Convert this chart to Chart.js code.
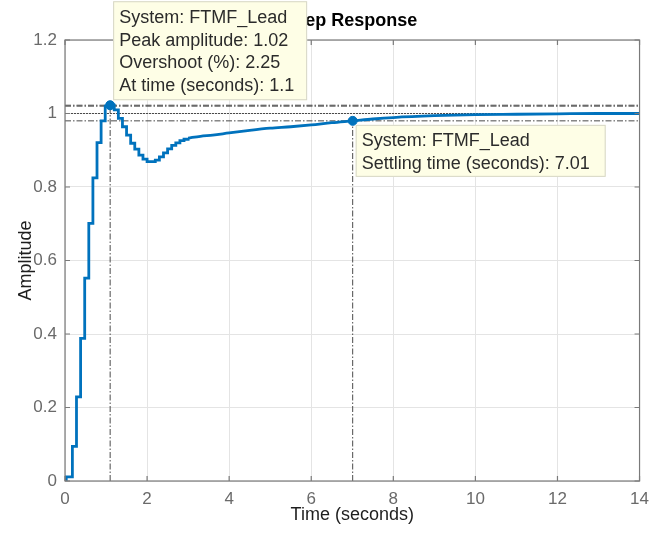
<!DOCTYPE html>
<html>
<head>
<meta charset="utf-8">
<script src="https://cdn.jsdelivr.net/npm/chart.js@4.4.1/dist/chart.umd.min.js"></script>
<style>
  html, body { margin: 0; padding: 0; background: #fff; }
</style>
</head>
<body>
<canvas id="chart" width="657" height="534"></canvas>
<script>
var stairTimes = [0, 0.03, 0.18, 0.28, 0.38, 0.48, 0.58, 0.68, 0.78, 0.88, 0.98, 1.1,
  1.2, 1.3, 1.4, 1.5, 1.6, 1.7, 1.8, 1.9, 2.0, 2.1, 2.2, 2.3, 2.4, 2.5, 2.6, 2.7, 2.8, 2.9, 3.0];
var stairValues = [0, 0.011, 0.094, 0.229, 0.388, 0.552, 0.701, 0.825, 0.921, 0.980, 1.020, 1.0225,
  1.010, 0.987, 0.964, 0.941, 0.919, 0.903, 0.887, 0.876, 0.869, 0.869, 0.873, 0.882, 0.893, 0.904,
  0.913, 0.920, 0.926, 0.930, 0.933];

// slow tail, visually smooth
var tailTimes = [3.0, 3.3, 3.6, 4.0, 4.5, 5.0, 5.5, 6.0, 6.5, 7.01, 7.5, 8, 9, 10, 11, 12, 13, 14];
var tailValues = [0.933, 0.938, 0.941, 0.947, 0.954, 0.960, 0.964, 0.969, 0.975, 0.980, 0.985,
  0.989, 0.994, 0.997, 0.998, 0.999, 1.0, 1.0];

var xTicks = [0, 2, 4, 6, 8, 10, 12, 14];
var yTicks = [0, 0.2, 0.4, 0.6, 0.8, 1, 1.2];

var peakTime = 1.1, peakValue = 1.0225;
var settleTime = 7.01, settleValue = 0.98;
var finalValue = 1;
var bandLow = 0.98, bandHigh = 1.02;

var chartTitle = "Step Response";
var peakTipLines = ["System: FTMF_Lead", "Peak amplitude: 1.02", "Overshoot (%): 2.25", "At time (seconds): 1.1"];
var settleTipLines = ["System: FTMF_Lead", "Settling time (seconds): 7.01"];

(function () {
  "use strict";

  var blue = "#0072BD";
  var refColor = "#4a4a4a";
  var dashDot = [6, 2, 1.5, 2];
  var fontFamily = '"Liberation Sans", Arial, sans-serif';
  var xMin = xTicks[0], xMax = xTicks[xTicks.length - 1];

  function pts(xs, ys) {
    return xs.map(function (x, i) { return { x: x, y: ys[i] }; });
  }

  function refLine(data, dash) {
    return {
      data: data,
      borderColor: refColor,
      borderWidth: 1,
      borderDash: dash,
      pointRadius: 0,
      fill: false,
      order: 5,
    };
  }

  var datasets = [
    {
      data: [{ x: peakTime, y: peakValue }, { x: settleTime, y: settleValue }],
      showLine: false,
      pointRadius: 4.5,
      pointBackgroundColor: blue,
      pointBorderColor: blue,
      order: 0,
    },
    {
      data: pts(stairTimes, stairValues),
      stepped: "before",
      borderColor: blue,
      borderWidth: 2.8,
      pointRadius: 0,
      fill: false,
      order: 1,
    },
    {
      data: pts(tailTimes, tailValues),
      borderColor: blue,
      borderWidth: 2.8,
      pointRadius: 0,
      cubicInterpolationMode: "monotone",
      fill: false,
      order: 1,
    },
    refLine([{ x: xMin, y: peakValue }, { x: xMax, y: peakValue }], dashDot),
    refLine([{ x: xMin, y: bandHigh }, { x: xMax, y: bandHigh }], dashDot),
    refLine([{ x: xMin, y: finalValue }, { x: xMax, y: finalValue }], [2, 1]),
    refLine([{ x: xMin, y: bandLow }, { x: xMax, y: bandLow }], dashDot),
    refLine([{ x: peakTime, y: 0 }, { x: peakTime, y: peakValue }], dashDot),
    refLine([{ x: settleTime, y: 0 }, { x: settleTime, y: settleValue }], dashDot),
  ];

  function drawTip(ctx, lines, left, top, w, h, firstLine, step) {
    ctx.save();
    ctx.fillStyle = "#fefee6";
    ctx.strokeStyle = "#d6d6c6";
    ctx.lineWidth = 1;
    ctx.fillRect(left, top, w, h);
    ctx.strokeRect(left + 0.5, top + 0.5, w - 1, h - 1);
    ctx.fillStyle = "#2b2b2b";
    ctx.font = "18px " + fontFamily;
    ctx.textBaseline = "middle";
    ctx.textAlign = "left";
    lines.forEach(function (t, i) {
      ctx.fillText(t, left + 6, top + firstLine + i * step);
    });
    ctx.restore();
  }

  var frame = {
    id: "frame",
    afterDatasetsDraw: function (chart) {
      var ctx = chart.ctx, a = chart.chartArea;
      var xs = chart.scales.x, ys = chart.scales.y;
      ctx.save();
      ctx.strokeStyle = "#7a7a7a";
      ctx.lineWidth = 1.2;
      ctx.strokeRect(a.left, a.top, a.right - a.left, a.bottom - a.top);
      ctx.beginPath();
      xTicks.forEach(function (v) {
        var px = xs.getPixelForValue(v);
        ctx.moveTo(px, a.bottom); ctx.lineTo(px, a.bottom - 5);
        ctx.moveTo(px, a.top); ctx.lineTo(px, a.top + 5);
      });
      yTicks.forEach(function (v) {
        var py = ys.getPixelForValue(v);
        ctx.moveTo(a.left, py); ctx.lineTo(a.left + 5, py);
        ctx.moveTo(a.right, py); ctx.lineTo(a.right - 5, py);
      });
      ctx.stroke();
      ctx.restore();
    },
    afterDraw: function (chart) {
      var ctx = chart.ctx, a = chart.chartArea;
      var xs = chart.scales.x, ys = chart.scales.y;

      // title centred over the axes, partly hidden by the peak tip
      ctx.save();
      ctx.fillStyle = "#000";
      ctx.font = "bold 18px " + fontFamily;
      ctx.textAlign = "center";
      ctx.textBaseline = "middle";
      ctx.fillText(chartTitle, (a.left + a.right) / 2, 21);
      ctx.restore();

      var px = xs.getPixelForValue(peakTime), py = ys.getPixelForValue(peakValue);
      drawTip(ctx, peakTipLines, px + 3, py - 104, 194, 99, 17, 22.6);
      var sx = xs.getPixelForValue(settleTime), sy = ys.getPixelForValue(settleValue);
      drawTip(ctx, settleTipLines, sx + 3, sy + 4, 250, 52, 16.5, 22.6);

      ctx.save();
      ctx.fillStyle = blue;
      ctx.beginPath();
      ctx.arc(px, py, 4.5, 0, Math.PI * 2);
      ctx.fill();
      ctx.restore();
    },
  };

  Chart.defaults.font.family = fontFamily;

  new Chart(document.getElementById("chart"), {
    type: "line",
    data: { datasets: datasets },
    options: {
      responsive: false,
      devicePixelRatio: 1,
      animation: false,
      layout: { padding: { left: 0, right: 17, top: 40, bottom: 0 } },
      plugins: {
        legend: { display: false },
        tooltip: { enabled: false },
        title: { display: false },
      },
      scales: {
        x: {
          type: "linear",
          min: xMin,
          max: xMax,
          afterBuildTicks: function (s) {
            s.ticks = xTicks.map(function (v) { return { value: v }; });
          },
          afterFit: function (s) { s.height = 53; },
          grid: { color: "#e4e4e4", drawTicks: false },
          border: { display: false },
          ticks: {
            color: "#6a6a6a",
            font: { size: 17 },
            padding: 8,
            maxRotation: 0,
            callback: function (v) { return String(v); },
          },
          title: {
            display: true,
            text: "Time (seconds)",
            color: "#1e1e1e",
            font: { size: 18 },
            padding: { top: 0, bottom: 8 },
          },
        },
        y: {
          type: "linear",
          min: yTicks[0],
          max: yTicks[yTicks.length - 1],
          afterBuildTicks: function (s) {
            s.ticks = yTicks.map(function (v) { return { value: v }; });
          },
          afterFit: function (s) { s.width = 65; },
          grid: { color: "#e4e4e4", drawTicks: false },
          border: { display: false },
          ticks: {
            color: "#6a6a6a",
            font: { size: 17 },
            padding: 8,
            callback: function (v) { return String(v); },
          },
          title: {
            display: true,
            text: "Amplitude",
            color: "#1e1e1e",
            font: { size: 18 },
            padding: { top: 15, bottom: 0 },
          },
        },
      },
    },
    plugins: [frame],
  });
})();
</script>
</body>
</html>
